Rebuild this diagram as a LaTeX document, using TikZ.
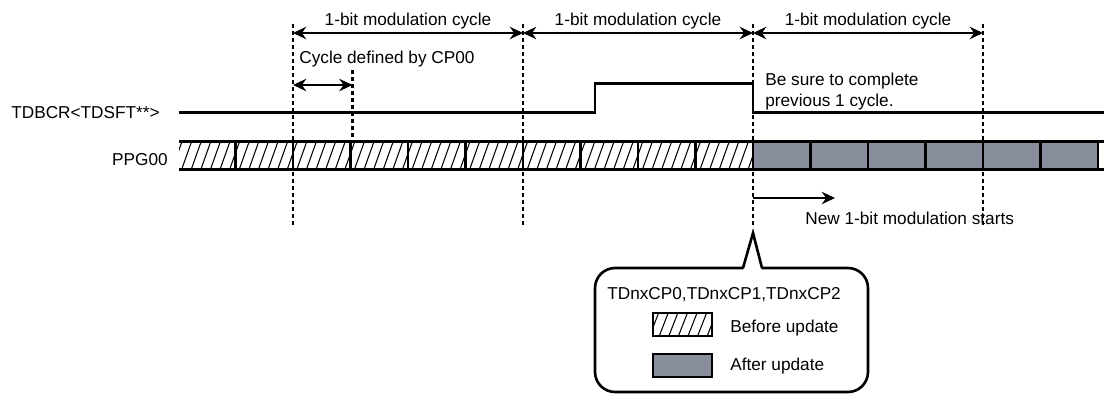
\documentclass[tikz,border=0pt]{standalone}
\usepackage{fontspec}
\setmainfont{Liberation Sans}
\usepackage{xcolor}
\usepackage{tikz}
\usetikzlibrary{arrows.meta}
\definecolor{newgray}{RGB}{137,142,156}

\begin{document}
\begin{tikzpicture}[x=0.02cm,y=-0.02cm,inner sep=0pt,
    font=\fontsize{9.8}{11.8}\selectfont,
    sig/.style={line width=1.5pt},
    cell/.style={line width=1.5pt},
    hatch/.style={line width=0.6pt},
    guide/.style={line width=1.4pt,dash pattern=on 2.3pt off 1.7pt},
    span/.style={line width=1.5pt,{Stealth[length=7.5pt,width=7pt]}-{Stealth[length=7.5pt,width=7pt]}},
    start/.style={line width=1.5pt,-{Stealth[length=7.5pt,width=7pt]}},
    callout/.style={draw,line width=1.5pt,rounded corners=0.4cm,
      minimum width=5.46cm,minimum height=2.48cm}]
  \useasboundingbox (0,0) rectangle (1104,396);
  % --- Marcas de ciclo ---
  \foreach \x [count=\i from 0] in {293,523,753,983} {
    \coordinate (t\i) at (\x,24);
    \coordinate (u\i) at (\x,227);
    \coordinate (a\i) at (\x,33);
  }
  \coordinate (s0) at (352.5,70);
  \coordinate (s1) at (352.5,141.5);
  \coordinate (k0) at (293,85);
  \coordinate (k1) at (352.5,85);
  \coordinate (n0) at (753,198);
  \coordinate (n1) at (835,198);
  \coordinate (tip) at (753,233);
  % --- TDBCR<TDSFT**> ---
  \node[anchor=base east] (tdbcr) at (160,118) {TDBCR<TDSFT**>};
  \draw[sig] (179,112.5) -- (595,112.5) |- (753,83.5) |- (1104,112.5);
  % --- PPG00 ---
  \node[anchor=base east] (ppg) at (168,165) {PPG00};
  \fill[newgray] (753,141.5) rectangle (1098,169.5);
  \begin{scope}
    \clip (179,141.5) rectangle (753,169.5);
    \foreach \x in {172,181.6,...,760} \draw[hatch] (\x,169.5) -- ++(10,-28);
  \end{scope}
  \draw[cell] (179,141.5) -- (1104,141.5);
  \draw[cell] (179,169.5) -- (1104,169.5);
  \foreach \x in {235.5,293,...,1100} \draw[cell] (\x,141.5) -- (\x,169.5);
  % --- Lineas de referencia ---
  \foreach \i in {0,...,3} \draw[guide] (t\i) -- (u\i);
  \draw[guide] (s0) -- (s1);
  % --- Ciclos ---
  \draw[span] (a0) -- (a1);
  \draw[span] (a1) -- (a2);
  \draw[span] (a2) -- (a3);
  \node[anchor=base] (cyc1) at (408,25) {1-bit modulation cycle};
  \node[anchor=base] (cyc2) at (638,25) {1-bit modulation cycle};
  \node[anchor=base] (cyc3) at (868,25) {1-bit modulation cycle};
  \node[anchor=base west] (cp00) at (299,63) {Cycle defined by CP00};
  \draw[span] (k0) -- (k1);
  \node[anchor=base west] (sure1) at (765,85) {Be sure to complete};
  \node[anchor=base west] (sure2) at (765,106.5) {previous 1 cycle.};
  \draw[start] (n0) -- (n1);
  \node[anchor=base west] (newmod) at (805,224) {New 1-bit modulation starts};
  % --- Leyenda ---
  \node[callout] (note) at (731.5,330) {};
  \fill[white] (743,271) -- (tip) -- (762,271) -- cycle;
  \draw[sig] (743,268) -- (tip) -- (762,268);
  \node[anchor=base west] (regs) at (607,299) {TDnxCP0,TDnxCP1,TDnxCP2};
  \begin{scope}
    \clip (653,313) rectangle (712,336);
    \foreach \x in {640,649.6,...,720} \draw[hatch] (\x,336) -- ++(9,-23);
  \end{scope}
  \draw[line width=1pt] (653,313) rectangle (712,336);
  \node[anchor=base west] (before) at (730,332) {Before update};
  \draw[cell,fill=newgray] (653,354) rectangle (712,377);
  \node[anchor=base west] (after) at (730,370) {After update};
\end{tikzpicture}
\end{document}
